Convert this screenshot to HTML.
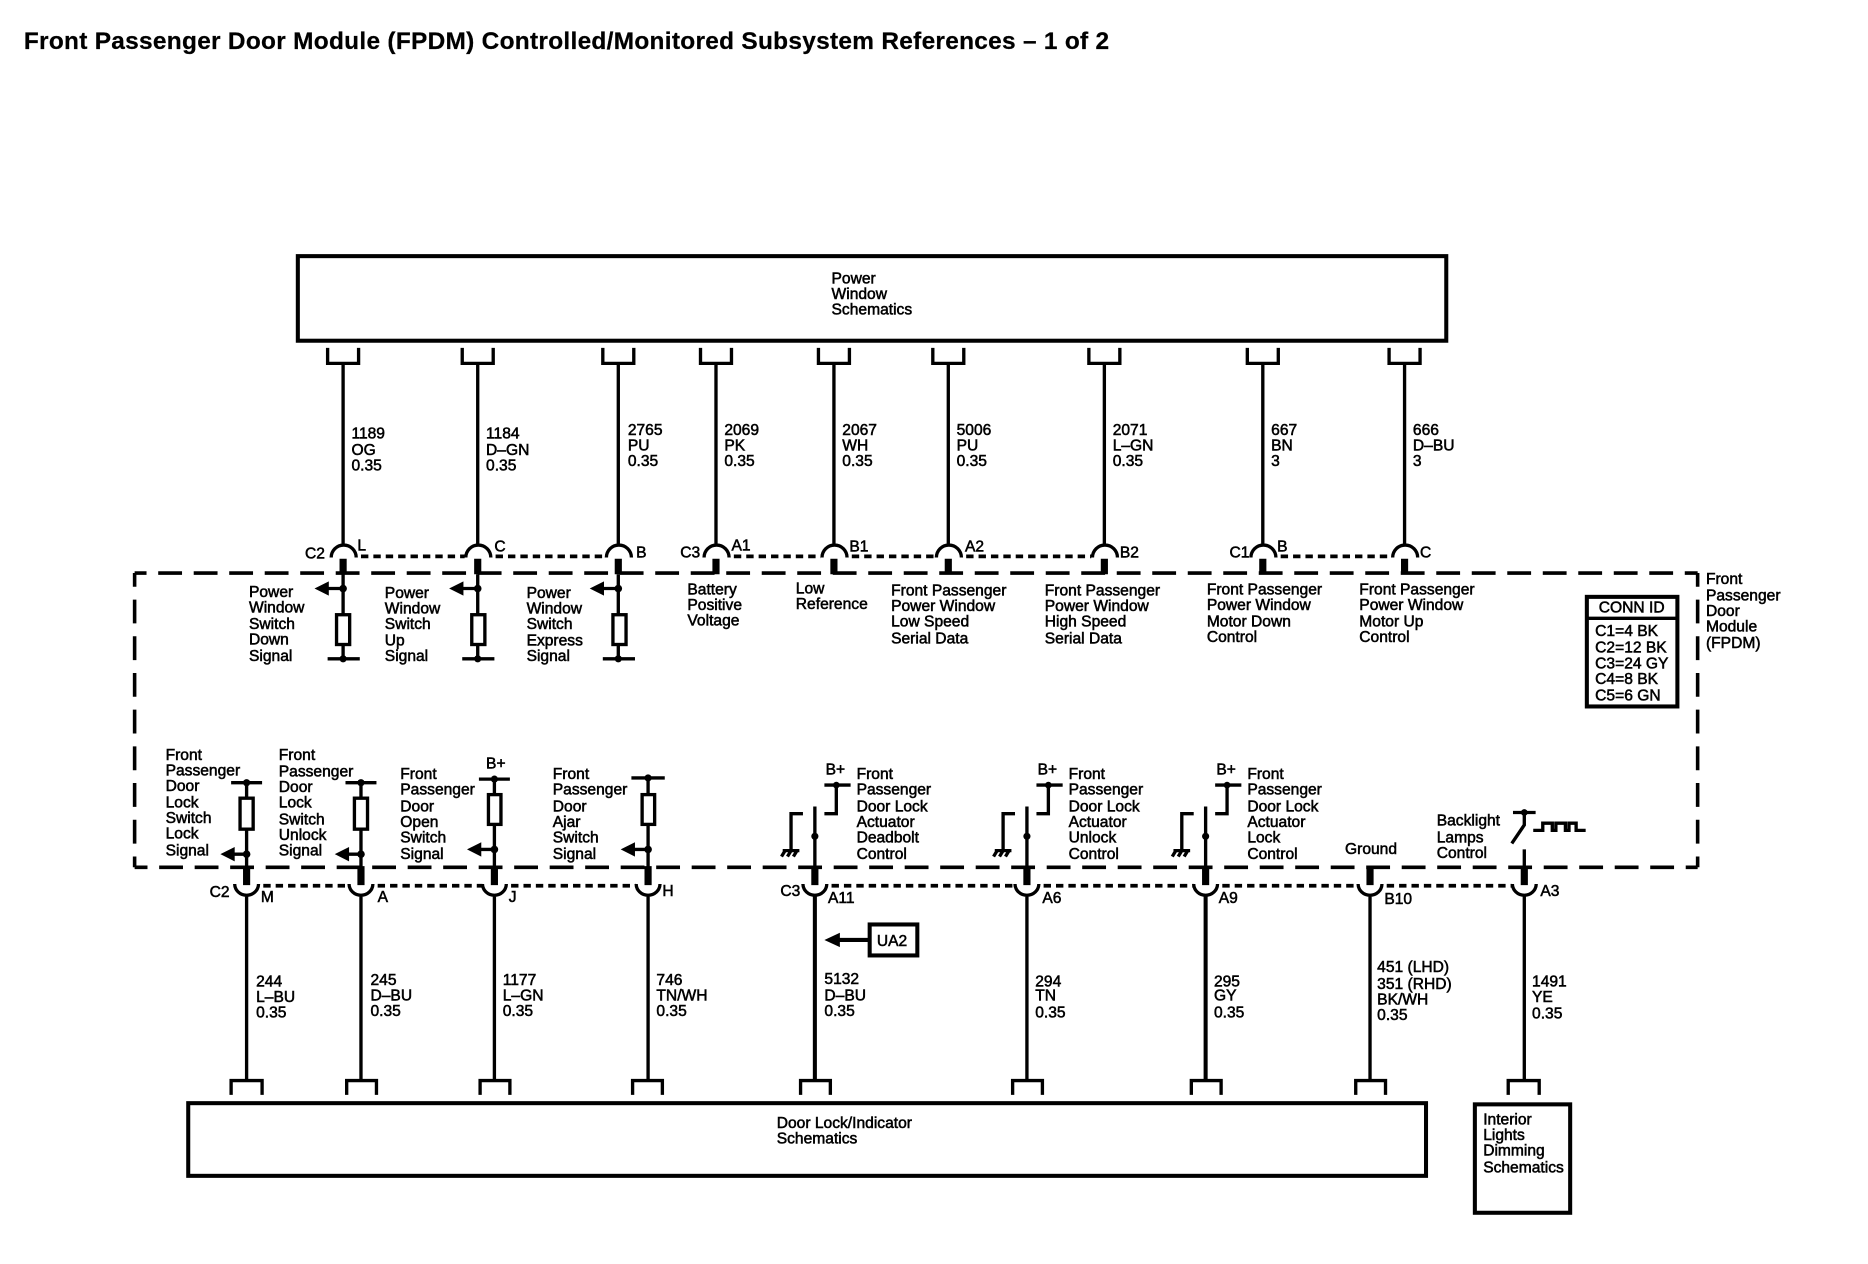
<!DOCTYPE html>
<html><head><meta charset="utf-8"><style>
html,body{margin:0;padding:0;background:#fff}
svg{display:block}
text{font-family:"Liberation Sans",sans-serif;font-size:13.1px;fill:#000;stroke:#000;stroke-width:.45}
.t{font-size:20.5px;font-weight:bold;stroke-width:.2}
path,rect{fill:none;stroke:#000;stroke-width:2.8}
.b{stroke-width:3.4}
.th{stroke-width:6}
.dm{stroke-width:3;stroke-dasharray:20 9.8;stroke-dashoffset:10}
.dv{stroke-width:3;stroke-dasharray:20 10.8;stroke-dashoffset:8.5}
.dt{stroke-width:3.2;stroke-dasharray:6.2 4.2}
.f{fill:#000;stroke:none}
</style></head><body>
<svg width="1868" height="1264" viewBox="0 0 1568 1061" xmlns="http://www.w3.org/2000/svg">
<text class="t" x="20" y="41" textLength="911">Front Passenger Door Module (FPDM) Controlled/Monitored Subsystem References – 1 of 2</text>

<rect class="b" x="250" y="215" width="964" height="71"/>
<text x="698" y="238">Power</text><text x="698" y="251">Window</text><text x="698" y="264">Schematics</text>

<!-- top wires -->
<path d="M275 292V305H301V292M288 305V458M278 468A10.5 10.5 0 0 1 299 468
M388 292V305H414V292M401 305V458M391 468A10.500 10.5 0 0 1 412 468
M506 292V305H532V292M519 305V458M509 468A10.5 10.5 0 0 1 530 468
M588 292V305H614V292M601 305V458M591 468A10.5 10.5 0 0 1 612 468
M687 292V305H713V292M700 305V458M690 468A10.5 10.5 0 0 1 711 468
M783 292V305H809V292M796 305V458M786 468A10.5 10.5 0 0 1 807 468
M914 292V305H940V292M927 305V458M917 468A10.5 10.5 0 0 1 938 468
M1047 292V305H1073V292M1060 305V458M1050 468A10.5 10.5 0 0 1 1071 468
M1166 292V305H1192V292M1179 305V458M1169 468A10.5 10.5 0 0 1 1190 468"/>
<path class="th" d="M288 469V482M401 469V482M519 469V482M601 469V482M700 469V482M796 469V482M927 469V482M1060 469V482M1179 469V482"/>
<path class="dt" d="M303 467H390M416 467H508M616 467H689M715 467H785M811 467H916M1075 467H1168"/>

<text x="295" y="368">1189</text><text x="295" y="382">OG</text><text x="295" y="395">0.35</text>
<text x="408" y="368">1184</text><text x="408" y="382">D–GN</text><text x="408" y="395">0.35</text>
<text x="527" y="365">2765</text><text x="527" y="378">PU</text><text x="527" y="391">0.35</text>
<text x="608" y="365">2069</text><text x="608" y="378">PK</text><text x="608" y="391">0.35</text>
<text x="707" y="365">2067</text><text x="707" y="378">WH</text><text x="707" y="391">0.35</text>
<text x="803" y="365">5006</text><text x="803" y="378">PU</text><text x="803" y="391">0.35</text>
<text x="934" y="365">2071</text><text x="934" y="378">L–GN</text><text x="934" y="391">0.35</text>
<text x="1067" y="365">667</text><text x="1067" y="378">BN</text><text x="1067" y="391">3</text>
<text x="1186" y="365">666</text><text x="1186" y="378">D–BU</text><text x="1186" y="391">3</text>

<text x="256" y="469">C2</text><text x="300" y="462">L</text><text x="415" y="463">C</text><text x="534" y="468">B</text>
<text x="571" y="468">C3</text><text x="614" y="462">A1</text><text x="713" y="463">B1</text><text x="810" y="463">A2</text><text x="940" y="468">B2</text>
<text x="1032" y="468">C1</text><text x="1072" y="463">B</text><text x="1192" y="468">C</text>

<!-- module dashed -->
<path class="dm" d="M113 481H1425"/>
<path class="dm" d="M1425 728H113"/>
<path class="dv" d="M113 481V728"/>
<path class="dv" d="M1425 481V728"/>

<!-- top inner circuits -->
<path d="M288 482V553M275 553H302M288 494H272
M401 482V553M388 553H415M401 494H385
M519 482V553M506 553H533M519 494H503"/>
<rect x="282.500" y="516" width="11" height="25" style="fill:#fff"/>
<rect x="396" y="516" width="11" height="25" style="fill:#fff"/>
<rect x="514.500" y="516" width="11" height="25" style="fill:#fff"/>
<circle class="f" cx="288" cy="494" r="3.2"/><circle class="f" cx="288" cy="553" r="3"/>
<circle class="f" cx="401" cy="494" r="3.2"/><circle class="f" cx="401" cy="553" r="3"/>
<circle class="f" cx="519" cy="494" r="3.2"/><circle class="f" cx="519" cy="553" r="3"/>
<polygon class="f" points="264,494 276,488 276,500"/>
<polygon class="f" points="377,494 389,488 389,500"/>
<polygon class="f" points="495,494 507,488 507,500"/>

<text x="209" y="501">Power</text><text x="209" y="514">Window</text><text x="209" y="528">Switch</text><text x="209" y="541">Down</text><text x="209" y="555">Signal</text>
<text x="323" y="502">Power</text><text x="323" y="515">Window</text><text x="323" y="528">Switch</text><text x="323" y="542">Up</text><text x="323" y="555">Signal</text>
<text x="442" y="502">Power</text><text x="442" y="515">Window</text><text x="442" y="528">Switch</text><text x="442" y="542">Express</text><text x="442" y="555">Signal</text>
<text x="577" y="499">Battery</text><text x="577" y="512">Positive</text><text x="577" y="525">Voltage</text>
<text x="668" y="498">Low</text><text x="668" y="511">Reference</text>
<text x="748" y="500">Front Passenger</text><text x="748" y="513">Power Window</text><text x="748" y="526">Low Speed</text><text x="748" y="540">Serial Data</text>
<text x="877" y="500">Front Passenger</text><text x="877" y="513">Power Window</text><text x="877" y="526">High Speed</text><text x="877" y="540">Serial Data</text>
<text x="1013" y="499">Front Passenger</text><text x="1013" y="512">Power Window</text><text x="1013" y="526">Motor Down</text><text x="1013" y="539">Control</text>
<text x="1141" y="499">Front Passenger</text><text x="1141" y="512">Power Window</text><text x="1141" y="526">Motor Up</text><text x="1141" y="539">Control</text>

<text x="1432" y="490">Front</text><text x="1432" y="504">Passenger</text><text x="1432" y="517">Door</text><text x="1432" y="530">Module</text><text x="1432" y="544">(FPDM)</text>

<rect class="b" x="1332" y="501" width="76" height="92"/>
<path d="M1332 519H1408"/>
<text x="1342" y="514">CONN ID</text>
<text x="1339" y="534">C1=4 BK</text><text x="1339" y="547.500">C2=12 BK</text><text x="1339" y="561">C3=24 GY</text><text x="1339" y="574">C4=8 BK</text><text x="1339" y="588">C5=6 GN</text>

<!-- lower inner circuits left -->
<path d="M194 657H220M207 657V728M207 717H190
M290 657H316M303 657V728M303 717H286
M402 654H428M415 654V728M415 713H398
M530 653H558M544 653V728M544 713H527"/>
<rect x="201.500" y="670" width="11" height="26" style="fill:#fff"/>
<rect x="297.500" y="670" width="11" height="26" style="fill:#fff"/>
<rect x="410" y="667" width="10.500" height="25" style="fill:#fff"/>
<rect x="539" y="667" width="10.500" height="25" style="fill:#fff"/>
<circle class="f" cx="207" cy="657" r="3"/><circle class="f" cx="207" cy="717" r="3.2"/>
<circle class="f" cx="303" cy="657" r="3"/><circle class="f" cx="303" cy="717" r="3.2"/>
<circle class="f" cx="415" cy="654" r="3"/><circle class="f" cx="415" cy="713" r="3.2"/>
<circle class="f" cx="544" cy="653" r="3"/><circle class="f" cx="544" cy="713" r="3.2"/>
<polygon class="f" points="185,717 197,711 197,723"/>
<polygon class="f" points="281,717 293,711 293,723"/>
<polygon class="f" points="392,713 404,707 404,719"/>
<polygon class="f" points="521,713 533,707 533,719"/>

<text x="139" y="638">Front</text><text x="139" y="651">Passenger</text><text x="139" y="664">Door</text><text x="139" y="678">Lock</text><text x="139" y="691">Switch</text><text x="139" y="704">Lock</text><text x="139" y="718">Signal</text>
<text x="234" y="638">Front</text><text x="234" y="652">Passenger</text><text x="234" y="665">Door</text><text x="234" y="678">Lock</text><text x="234" y="692">Switch</text><text x="234" y="705">Unlock</text><text x="234" y="718">Signal</text>
<text x="336" y="654">Front</text><text x="336" y="667">Passenger</text><text x="336" y="681">Door</text><text x="336" y="694">Open</text><text x="336" y="707">Switch</text><text x="336" y="721">Signal</text>
<text x="408" y="645">B+</text>
<text x="464" y="654">Front</text><text x="464" y="667">Passenger</text><text x="464" y="681">Door</text><text x="464" y="694">Ajar</text><text x="464" y="707">Switch</text><text x="464" y="721">Signal</text>

<!-- actuators -->
<path d="M684 677V728M692 659H714M702 659V683H692M674 683H664V714
M862 677V728M870 659H892M880 659V683H870M852 683H842V714
M1012 677V728M1020 659H1042M1030 659V683H1020M1002 683H992V714"/>
<circle class="f" cx="684" cy="702" r="3"/><circle class="f" cx="702" cy="659" r="2.800"/>
<circle class="f" cx="862" cy="702" r="3"/><circle class="f" cx="880" cy="659" r="2.800"/>
<circle class="f" cx="1012" cy="702" r="3"/><circle class="f" cx="1030" cy="659" r="2.800"/>
<path d="M657 714H671M659 714L656 719M664 714L661 719M669 714L666 719
M835 714H849M837 714L834 719M842 714L839 719M847 714L844 719
M985 714H999M987 714L984 719M992 714L989 719M997 714L994 719"/>
<text x="693" y="650">B+</text><text x="871" y="650">B+</text><text x="1021" y="650">B+</text>
<text x="719" y="654">Front</text><text x="719" y="667">Passenger</text><text x="719" y="681">Door Lock</text><text x="719" y="694">Actuator</text><text x="719" y="707">Deadbolt</text><text x="719" y="721">Control</text>
<text x="897" y="654">Front</text><text x="897" y="667">Passenger</text><text x="897" y="681">Door Lock</text><text x="897" y="694">Actuator</text><text x="897" y="707">Unlock</text><text x="897" y="721">Control</text>
<text x="1047" y="654">Front</text><text x="1047" y="667">Passenger</text><text x="1047" y="681">Door Lock</text><text x="1047" y="694">Actuator</text><text x="1047" y="707">Lock</text><text x="1047" y="721">Control</text>
<text x="1129" y="717">Ground</text>
<text x="1206" y="693">Backlight</text><text x="1206" y="707">Lamps</text><text x="1206" y="720">Control</text>
<path d="M1270 682H1289M1279.500 682V692.500L1269 708M1279.500 713V728M1287 697H1295V691H1303V697H1306V691H1314V697H1317V691H1323V697H1331"/>
<circle class="f" cx="1279.500" cy="682" r="2.800"/>

<!-- lower connectors & wires -->
<path class="th" d="M207 727V743M303 727V743M415 727V743M544 727V743M684 727V743M862 727V743M1012 727V743M1150 727V743M1279.500 727V743"/>
<path class="dt" d="M221 743.500H293M317 743.500H405M429 743.500H534M698 743.500H852M876 743.500H1002M1026 743.500H1140M1164 743.500H1269"/>
<path d="M197 742A10 9.5 0 0 0 217 742M207 751.500V907M194 919V907H220V919
M293 742A10 9.500 0 0 0 313 742M303 751.500V907M291 919V907H316V919
M405 742A10 9.500 0 0 0 425 742M415 751.500V907M403 919V907H428V919
M534 742A10 9.500 0 0 0 554 742M544 751.500V907M531 919V907H556V919
M674 742A10 9.500 0 0 0 694 742M672 919V907H697V919
M852 742A10 9.500 0 0 0 872 742M862 751.500V907M850 919V907H875V919
M1002 742A10 9.500 0 0 0 1022 742M1000 919V907H1025V919
M1140 742A10 9.500 0 0 0 1160 742M1150 751.500V907M1138 919V907H1163V919
M1269.500 742A10 9.500 0 0 0 1289.500 742M1279.500 751.500V907M1266 919V907H1292V919"/>
<path class="b" d="M684 751.500V907M1012 751.500V907"/>

<text x="176" y="753">C2</text><text x="219" y="757">M</text><text x="317" y="757">A</text><text x="427" y="757">J</text><text x="556" y="752">H</text>
<text x="655" y="752">C3</text><text x="695" y="758">A11</text><text x="875" y="758">A6</text><text x="1023" y="758">A9</text><text x="1162" y="759">B10</text><text x="1293" y="752">A3</text>

<text x="215" y="828">244</text><text x="215" y="841">L–BU</text><text x="215" y="854">0.35</text>
<text x="311" y="827">245</text><text x="311" y="840">D–BU</text><text x="311" y="853">0.35</text>
<text x="422" y="827">1177</text><text x="422" y="840">L–GN</text><text x="422" y="853">0.35</text>
<text x="551" y="827">746</text><text x="551" y="840">TN/WH</text><text x="551" y="853">0.35</text>
<text x="692" y="826">5132</text><text x="692" y="840">D–BU</text><text x="692" y="853">0.35</text>
<text x="869" y="828">294</text><text x="869" y="840">TN</text><text x="869" y="854">0.35</text>
<text x="1019" y="828">295</text><text x="1019" y="840">GY</text><text x="1019" y="854">0.35</text>
<text x="1156" y="816">451 (LHD)</text><text x="1156" y="830">351 (RHD)</text><text x="1156" y="843">BK/WH</text><text x="1156" y="856">0.35</text>
<text x="1286" y="828">1491</text><text x="1286" y="841">YE</text><text x="1286" y="855">0.35</text>

<rect class="b" x="730" y="776" width="40" height="26"/>
<text x="736" y="794">UA2</text>
<path class="b" d="M730 789H700"/>
<polygon class="f" points="692,789 705,783 705,795"/>

<rect class="b" x="158" y="926" width="1039" height="61"/>
<text x="652" y="947">Door Lock/Indicator</text><text x="652" y="960">Schematics</text>
<rect class="b" x="1238" y="927" width="80" height="91"/>
<text x="1245" y="944">Interior</text><text x="1245" y="957">Lights</text><text x="1245" y="970">Dimming</text><text x="1245" y="984">Schematics</text>
</svg>
</body></html>
